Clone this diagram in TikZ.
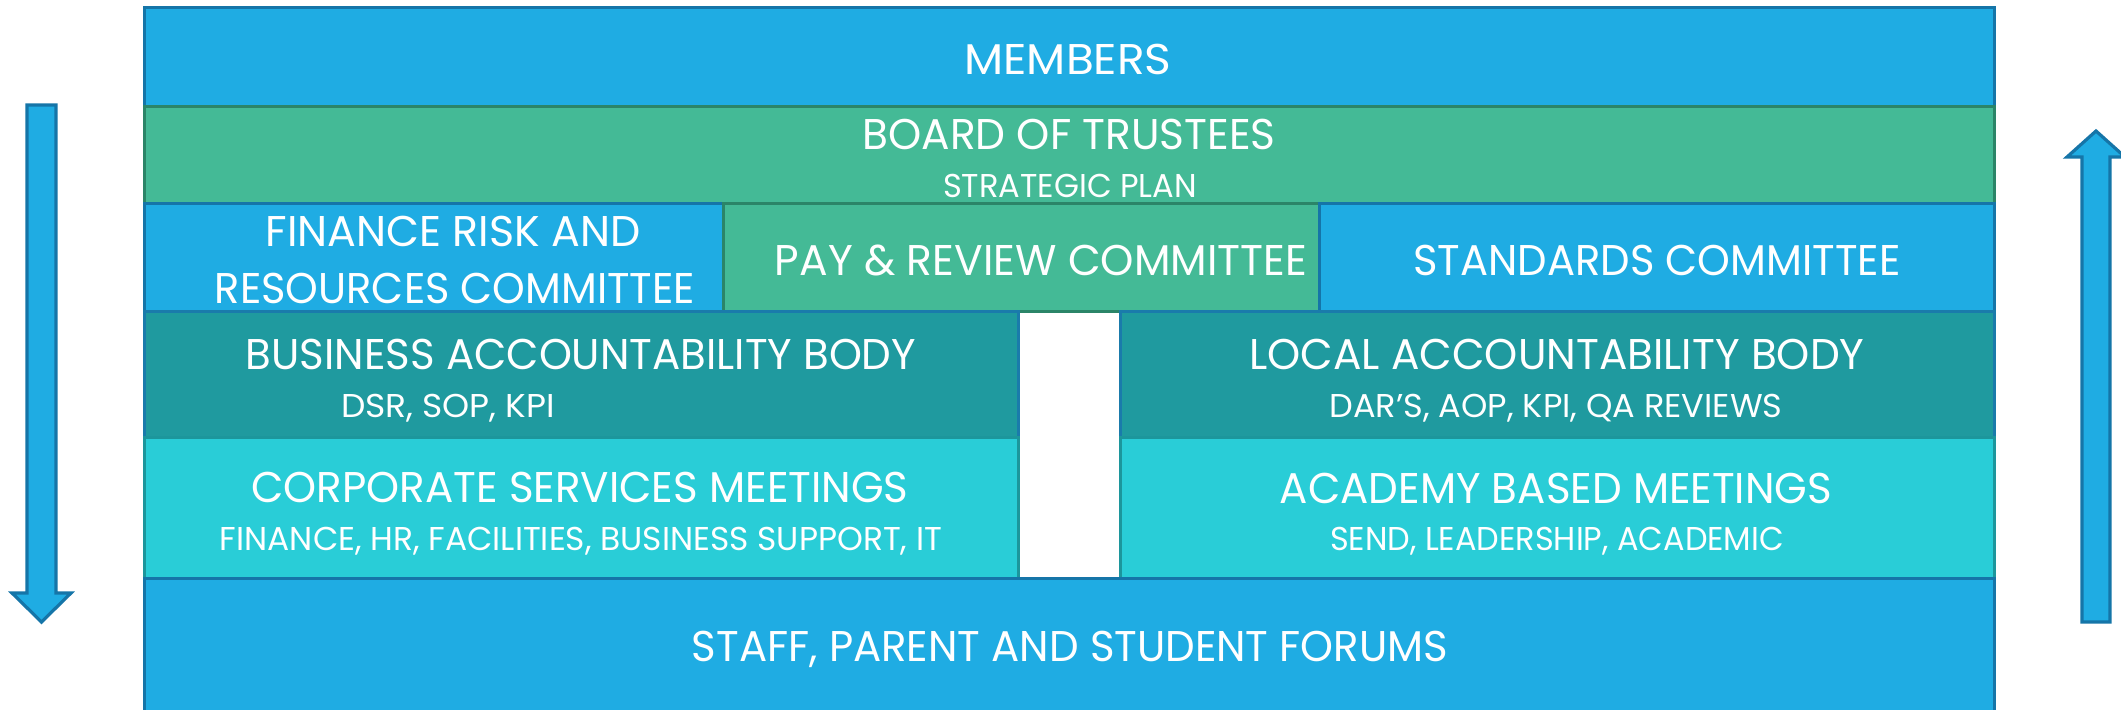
\documentclass[tikz,border=0pt]{standalone}
\usepackage{fontspec}
\setmainfont{Poppins}
\usepackage{graphicx}
\newlength\pxu
\setlength\pxu{0.5pt}
% set a label at a given width (in px) without changing its height
\newcommand\fitw[2]{\resizebox{#1\pxu}{\height}{#2}}
\definecolor{blueF}{HTML}{1FACE3}
\definecolor{blueD}{HTML}{1575A8}
\definecolor{greenF}{HTML}{44BA96}
\definecolor{greenD}{HTML}{2B8568}
\definecolor{tealF}{HTML}{1F9A9F}
\definecolor{tealD}{HTML}{1A7BAB}
\definecolor{cyanF}{HTML}{29CDD7}
\definecolor{cyanD}{HTML}{1C969C}
\tikzset{
  bluebox/.style={fill=blueF,draw=blueD,line width=1.5pt},
  greenbox/.style={fill=greenF,draw=greenD,line width=1.5pt},
  tealbox/.style={fill=tealF,draw=tealD,line width=1.5pt},
  cyanbox/.style={fill=cyanF,draw=cyanD,line width=1.5pt},
  flowarrow/.style={fill=blueF,draw=blueD,line width=1.6pt,line join=miter},
  big/.style={text=white,inner sep=0pt,anchor=base,font=\fontsize{21.5}{24}\selectfont},
  small/.style={text=white,inner sep=0pt,anchor=base,font=\fontsize{16.5}{19}\selectfont},
}
\begin{document}
\begin{tikzpicture}[x=0.5pt,y=-0.5pt]
\useasboundingbox (0,0) rectangle (2121,709);
\clip (0,0) rectangle (2121,709);
\fill[white] (0,0) rectangle (2121,709);

% rows of the structure
\draw[bluebox]  (144,7)   rectangle (1994,106);
\draw[greenbox] (144,106) rectangle (1994,203);
\draw[bluebox]  (144,203) rectangle (723,311);
\draw[greenbox] (723,203) rectangle (1319,311);
\draw[bluebox]  (1319,203) rectangle (1994,311);
\draw[tealbox]  (144,311) rectangle (1018,437);
\draw[tealbox]  (1120,311) rectangle (1994,437);
\draw[cyanbox]  (144,437) rectangle (1018,578);
\draw[cyanbox]  (1120,437) rectangle (1994,578);
\draw[bluebox]  (144,578) rectangle (1994,715);

% flow arrows at the sides
\draw[flowarrow] (27,105) -- (56,105) -- (56,593) -- (71,593) -- (41.5,622)
  -- (12,593) -- (27,593) -- cycle;
\draw[flowarrow] (2082,622) -- (2110,622) -- (2110,157) -- (2125,157) -- (2096,131)
  -- (2067,157) -- (2082,157) -- cycle;

% labels
\node[big]   (members)  at (1068,74)  {\fitw{207}{MEMBERS}};
\node[big]   (board)    at (1069,149) {\fitw{413}{BOARD OF TRUSTEES}};
\node[small] (plan)     at (1070,197) {\fitw{254}{STRATEGIC PLAN}};
\node[big]   (frc1)     at (453,246)  {\fitw{375}{FINANCE RISK AND}};
\node[big]   (frc2)     at (455,303)  {\fitw{480}{RESOURCES COMMITTEE}};
\node[big]   (pay)      at (1041,275) {\fitw{532}{PAY \& REVIEW COMMITTEE}};
\node[big]   (std)      at (1657,275) {\fitw{487}{STANDARDS COMMITTEE}};
\node[big]   (bab)      at (581,369)  {\fitw{670}{BUSINESS ACCOUNTABILITY BODY}};
\node[small] (babsub)   at (448,417)  {\fitw{214}{DSR, SOP, KPI}};
\node[big]   (lab)      at (1557,369) {\fitw{615}{LOCAL ACCOUNTABILITY BODY}};
\node[small] (labsub)   at (1556,417) {\fitw{453}{DAR’S, AOP, KPI, QA REVIEWS}};
\node[big]   (csm)      at (580,502)  {\fitw{657}{CORPORATE SERVICES MEETINGS}};
\node[small] (csmsub)   at (581,550)  {\fitw{722}{FINANCE, HR, FACILITIES, BUSINESS SUPPORT, IT}};
\node[big]   (abm)      at (1556,503) {\fitw{552}{ACADEMY BASED MEETINGS}};
\node[small] (abmsub)   at (1557,550) {\fitw{454}{SEND, LEADERSHIP, ACADEMIC}};
\node[big]   (forums)   at (1070,661) {\fitw{756}{STAFF, PARENT AND STUDENT FORUMS}};
\end{tikzpicture}
\end{document}
